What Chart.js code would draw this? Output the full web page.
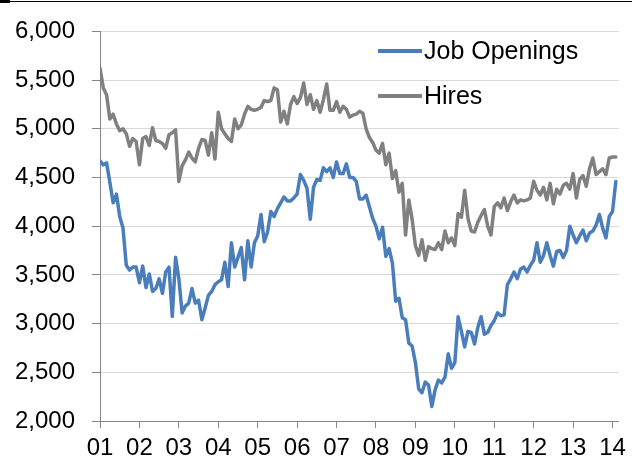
<!DOCTYPE html>
<html>
<head>
<meta charset="utf-8">
<script src="https://cdn.jsdelivr.net/npm/chart.js@4.4.1/dist/chart.umd.min.js"></script>
<style>
  body { margin: 0; background: #fff; }
  #wrap { position: relative; width: 632px; height: 461px; }
  #topRule { position: absolute; left: 0; top: 1px; width: 632px; height: 1px; background: #000; }
  #topMark { position: absolute; left: 0; top: 0; width: 10px; height: 3px; background: #000; }
</style>
</head>
<body>
<div id="wrap">
  <canvas id="chart" width="632" height="461"></canvas>
  <div id="topRule"></div>
  <div id="topMark"></div>
</div>
<script>
// ─── Data (monthly, Jan 2001 – Feb 2014, thousands) ──────────────────────────

const yearLabels = ["01", "02", "03", "04", "05", "06", "07", "08", "09", "10", "11", "12", "13", "14"];

const jobOpenings = [
  4670, 4630, 4650, 4450, 4240, 4330, 4100, 3980, 3600, 3550, 3580, 3580, // 2001
  3420, 3590, 3370, 3510, 3330, 3360, 3460, 3310, 3530, 3580, 3075, 3680, // 2002
  3460, 3110, 3180, 3210, 3360, 3210, 3240, 3040, 3160, 3290, 3330, 3400, // 2003
  3430, 3450, 3630, 3380, 3830, 3580, 3680, 3780, 3450, 3850, 3580, 3830, // 2004
  3900, 4120, 3840, 3940, 4150, 4100, 4180, 4240, 4300, 4260, 4260, 4290, // 2005
  4330, 4530, 4470, 4390, 4070, 4400, 4480, 4470, 4600, 4560, 4600, 4500, // 2006
  4660, 4540, 4540, 4640, 4500, 4500, 4460, 4280, 4280, 4320, 4200, 4080, // 2007
  4000, 3870, 3990, 3690, 3770, 3620, 3230, 3260, 3060, 3040, 2800, 2770, // 2008
  2600, 2330, 2290, 2400, 2370, 2150, 2320, 2420, 2390, 2450, 2690, 2540, // 2009
  2600, 3070, 2920, 2760, 2920, 2910, 2790, 2960, 3070, 2890, 2910, 2980, // 2010
  3030, 3110, 3080, 3090, 3400, 3460, 3530, 3460, 3560, 3580, 3530, 3600, // 2011
  3650, 3830, 3630, 3700, 3830, 3700, 3590, 3740, 3750, 3680, 3750, 4000, // 2012
  3910, 3830, 3900, 3960, 3850, 3930, 3950, 4010, 4120, 3980, 3880, 4100, // 2013
  4150, 4460                                                              // 2014
];

const hires = [
  5620, 5420, 5350, 5100, 5150, 5050, 4980, 5000, 4950, 4820, 4900, 4870, // 2001
  4630, 4900, 4920, 4830, 5010, 4880, 4870, 4850, 4800, 4940, 4960, 4990, // 2002
  4460, 4620, 4680, 4760, 4700, 4660, 4800, 4890, 4880, 4730, 4960, 4690, // 2003
  5170, 5000, 4950, 4900, 4870, 5100, 5000, 5040, 5150, 5230, 5200, 5190, // 2004
  5200, 5220, 5290, 5280, 5290, 5420, 5400, 5070, 5180, 5050, 5250, 5330, // 2005
  5260, 5320, 5470, 5250, 5350, 5200, 5290, 5170, 5300, 5460, 5190, 5190, // 2006
  5280, 5170, 5230, 5200, 5120, 5140, 5150, 5180, 5160, 5000, 4910, 4860, // 2007
  4780, 4750, 4850, 4630, 4750, 4490, 4570, 4350, 4440, 3910, 4270, 4070, // 2008
  3800, 3700, 3860, 3650, 3790, 3770, 3760, 3830, 3760, 3950, 3830, 3880, // 2009
  3800, 4130, 4090, 4370, 4080, 3950, 3940, 4040, 4110, 4170, 4000, 3910, // 2010
  4200, 4240, 4190, 4290, 4160, 4250, 4320, 4240, 4270, 4260, 4270, 4290, // 2011
  4460, 4370, 4320, 4400, 4270, 4440, 4230, 4380, 4330, 4420, 4440, 4380, // 2012
  4540, 4290, 4480, 4520, 4410, 4590, 4700, 4530, 4560, 4590, 4530, 4700, // 2013
  4710, 4710                                                              // 2014
];

const yMin = 2000;
const yMax = 6000;
const yStep = 500;

// ─── Styling ─────────────────────────────────────────────────────────────────

const FONT = "Arial, 'Liberation Sans', sans-serif";
const AXIS_GRAY = "#868686";
const GRID_GRAY = "#d9d9d9";

const toPoints = (arr) => arr.map((v, i) => ({ x: i, y: v }));

// legend drawn inside the plot, upper right
const insideLegend = {
  id: "insideLegend",
  afterDatasetsDraw(chart) {
    const ctx = chart.ctx;
    ctx.save();
    ctx.font = "25px " + FONT;
    ctx.textBaseline = "middle";
    ctx.textAlign = "left";
    chart.data.datasets.forEach((ds, i) => {
      const y = 51 + i * 45;
      ctx.strokeStyle = ds.borderColor;
      ctx.lineWidth = 4;
      ctx.lineCap = "butt";
      ctx.beginPath();
      ctx.moveTo(378, y);
      ctx.lineTo(422, y);
      ctx.stroke();
      ctx.fillStyle = "#000";
      ctx.fillText(ds.label, 424, y + 1);
    });
    ctx.restore();
  },
};

new Chart(document.getElementById("chart"), {
  type: "line",
  data: {
    datasets: [
      {
        label: "Job Openings",
        data: toPoints(jobOpenings),
        borderColor: "#4a7ebb",
        borderWidth: 3.5,
        pointRadius: 0,
        tension: 0,
        borderJoinStyle: "round",
        borderCapStyle: "round",
      },
      {
        label: "Hires",
        data: toPoints(hires),
        borderColor: "#808080",
        borderWidth: 3.5,
        pointRadius: 0,
        tension: 0,
        borderJoinStyle: "round",
        borderCapStyle: "round",
      },
    ],
  },
  options: {
    responsive: false,
    animation: false,
    layout: { padding: { top: 26, right: 11, left: 0, bottom: 0 } },
    plugins: {
      legend: { display: false },
      tooltip: { enabled: false },
    },
    scales: {
      x: {
        type: "linear",
        min: 0,
        max: 157.8,
        afterFit: (s) => { s.height = 40; },
        border: { color: AXIS_GRAY, width: 1 },
        grid: {
          drawOnChartArea: false,
          tickColor: AXIS_GRAY,
          tickLength: 7,
        },
        ticks: {
          stepSize: 12,
          includeBounds: false,
          autoSkip: false,
          maxRotation: 0,
          padding: 6,
          color: "#000",
          font: { family: FONT, size: 24 },
          callback: (v) => yearLabels[Math.round(v / 12)] ?? "",
        },
      },
      y: {
        min: yMin,
        max: yMax,
        afterFit: (s) => { s.width = 100; },
        border: { color: AXIS_GRAY, width: 1 },
        grid: {
          color: (c) => (c.tick && c.tick.value === yMin ? "rgba(0,0,0,0)" : GRID_GRAY),
          tickColor: AXIS_GRAY,
          tickLength: 8,
        },
        ticks: {
          stepSize: yStep,
          padding: 17,
          color: "#000",
          font: { family: FONT, size: 24 },
          callback: (v) => v.toLocaleString("en-US"),
        },
      },
    },
  },
  plugins: [insideLegend],
});
</script>
</body>
</html>
